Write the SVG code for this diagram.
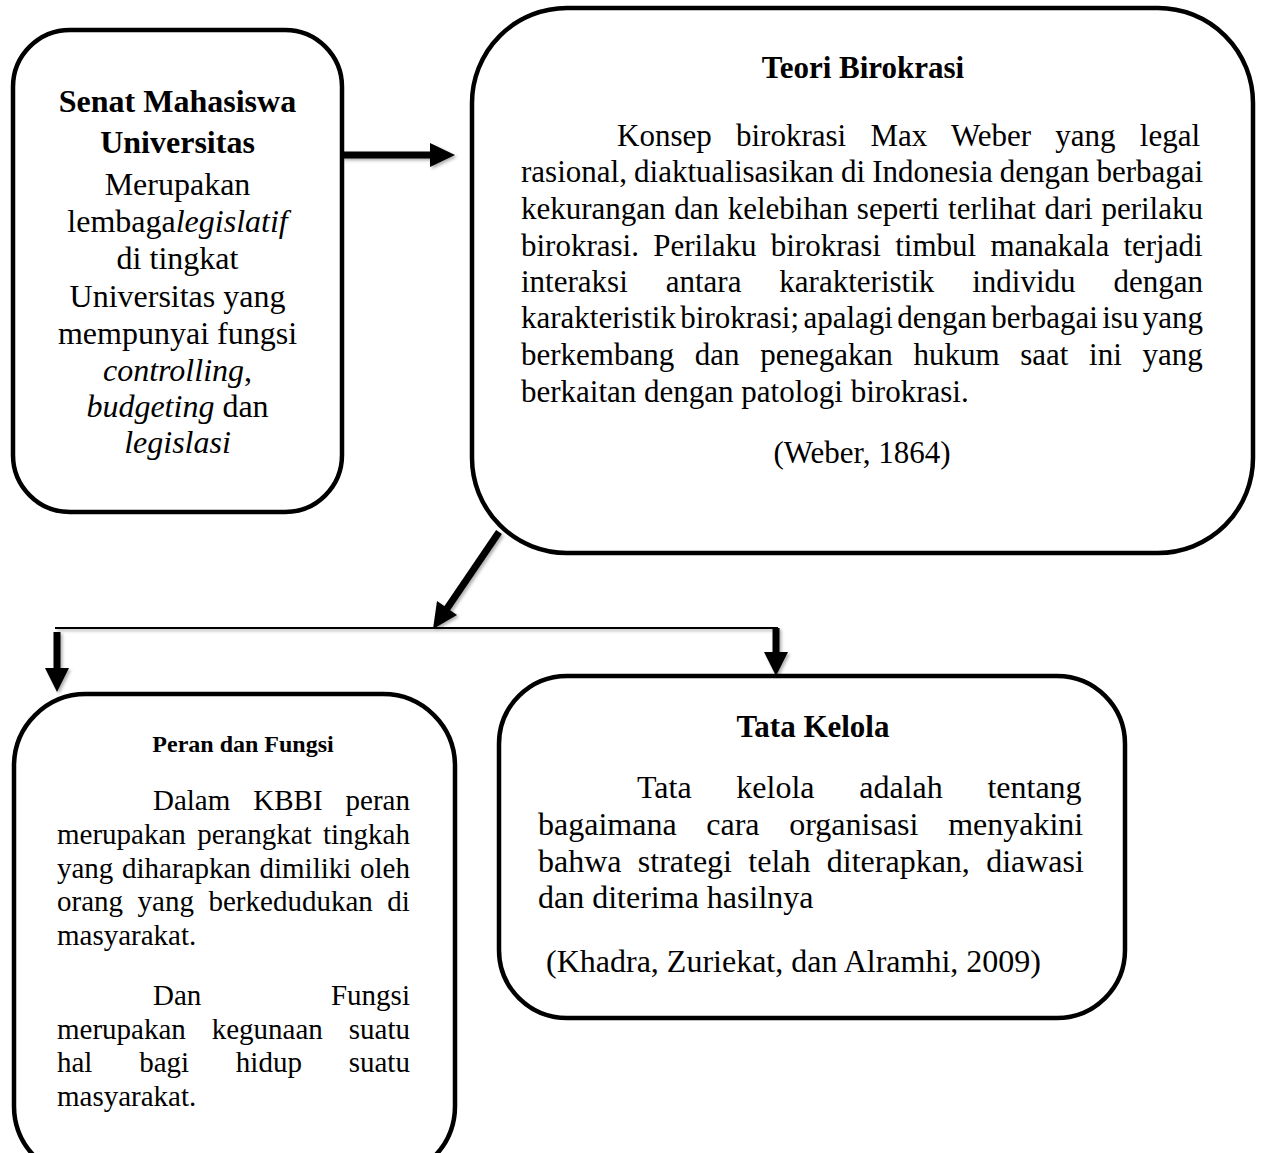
<svg xmlns="http://www.w3.org/2000/svg" width="1261" height="1153" viewBox="0 0 1261 1153">
<style>
.box{fill:#fff;stroke:#000;stroke-width:4.5}
.t{font-family:"Liberation Serif","Times New Roman",serif;fill:#000}
.c{text-anchor:middle}
.bold{font-weight:bold}
.i{font-style:italic}
.f32{font-size:32px}
.f31{font-size:31px}
.f29{font-size:29px}
.f24{font-size:24px}
.ln{stroke:#000;fill:none}
.ah{fill:#000;stroke:none}
</style>
<defs>
<filter id="sh" x="-20%" y="-20%" width="140%" height="140%">
<feDropShadow dx="2" dy="2" stdDeviation="1.5" flood-color="#000" flood-opacity="0.3"/>
</filter>
</defs>

<g id="node-senat">
<rect class="box" x="13" y="30" width="329" height="482" rx="57" ry="57"/>
<text class="t c bold f32" x="177.5" y="112">Senat Mahasiswa</text>
<text class="t c bold f32" x="177.5" y="153">Universitas</text>
<text class="t c f32" x="177.5" y="195">Merupakan</text>
<text class="t c f32" x="177.5" y="232">lembaga<tspan class="i">legislatif</tspan></text>
<text class="t c f32" x="177.5" y="269">di tingkat</text>
<text class="t c f32" x="177.5" y="307">Universitas yang</text>
<text class="t c f32" x="177.5" y="344">mempunyai fungsi</text>
<text class="t c f32" x="177.5" y="381"><tspan class="i">controlling</tspan>,</text>
<text class="t c f32" x="177.5" y="417"><tspan class="i">budgeting</tspan> dan</text>
<text class="t c f32" x="177.5" y="453"><tspan class="i">legislasi</tspan></text>
</g>

<g id="node-teori">
<rect class="box" x="472" y="8" width="781" height="545" rx="95" ry="95"/>
<text class="t c bold f31" x="863" y="78">Teori Birokrasi</text>
<text class="t f31" x="617" y="146" style="word-spacing:16.5px">Konsep birokrasi Max Weber yang legal</text>
<text class="t f31" x="521" y="182" style="word-spacing:-0.6px">rasional, diaktualisasikan di Indonesia dengan berbagai</text>
<text class="t f31" x="521" y="219" style="word-spacing:0.9px">kekurangan dan kelebihan seperti terlihat dari perilaku</text>
<text class="t f31" x="521" y="256" style="word-spacing:6.5px">birokrasi. Perilaku birokrasi timbul manakala terjadi</text>
<text class="t f31" x="521" y="292" style="word-spacing:30.2px">interaksi antara karakteristik individu dengan</text>
<text class="t f31" x="521" y="328" style="word-spacing:-3.4px">karakteristik birokrasi; apalagi dengan berbagai isu yang</text>
<text class="t f31" x="521" y="365" style="word-spacing:12.9px">berkembang dan penegakan hukum saat ini yang</text>
<text class="t f31" x="521" y="402">berkaitan dengan patologi birokrasi.</text>
<text class="t c f31" x="862" y="463">(Weber, 1864)</text>
</g>

<g id="node-peran">
<rect class="box" x="14" y="694" width="441" height="484" rx="72" ry="72"/>
<text class="t c bold f24" x="243" y="752">Peran dan Fungsi</text>
<text class="t f29" x="153" y="810" style="word-spacing:15.75px">Dalam KBBI peran</text>
<text class="t f29" x="57" y="844" style="word-spacing:4.15px">merupakan perangkat tingkah</text>
<text class="t f29" x="57" y="877.5" style="word-spacing:1.4px">yang diharapkan dimiliki oleh</text>
<text class="t f29" x="57" y="911" style="word-spacing:7.3px">orang yang berkedudukan di</text>
<text class="t f29" x="57" y="945">masyarakat.</text>
<text class="t f29" x="153" y="1005" style="word-spacing:122.4px">Dan Fungsi</text>
<text class="t f29" x="57" y="1039" style="word-spacing:18.65px">merupakan kegunaan suatu</text>
<text class="t f29" x="57" y="1072" style="word-spacing:39.5px">hal bagi hidup suatu</text>
<text class="t f29" x="57" y="1106">masyarakat.</text>
</g>

<g id="node-tata">
<rect class="box" x="499" y="676" width="626" height="342" rx="68" ry="68"/>
<text class="t c bold f31" x="813" y="737">Tata Kelola</text>
<text class="t f32" x="637" y="798" style="word-spacing:36.7px">Tata kelola adalah tentang</text>
<text class="t f32" x="538" y="835" style="word-spacing:21.7px">bagaimana cara organisasi menyakini</text>
<text class="t f32" x="538" y="872" style="word-spacing:8.3px">bahwa strategi telah diterapkan, diawasi</text>
<text class="t f32" x="538" y="908">dan diterima hasilnya</text>
<text class="t f32" x="546" y="972">(Khadra, Zuriekat, dan Alramhi, 2009)</text>
</g>

<g id="connectors" filter="url(#sh)">
<line class="ln" x1="342" y1="155" x2="432" y2="155" stroke-width="7"/>
<polygon class="ah" points="430,143 455,155 430,167"/>
<line class="ln" x1="499" y1="532" x2="446" y2="610" stroke-width="7"/>
<polygon class="ah" points="457,615 433,629 437,601"/>
<line class="ln" x1="55" y1="628" x2="778" y2="628" stroke-width="2"/>
<line class="ln" x1="57" y1="632" x2="57" y2="670" stroke-width="7"/>
<polygon class="ah" points="45,668 69,668 57,692"/>
<line class="ln" x1="776" y1="628" x2="776" y2="654" stroke-width="7"/>
<polygon class="ah" points="764,652 788,652 776,676"/>
</g>
</svg>
